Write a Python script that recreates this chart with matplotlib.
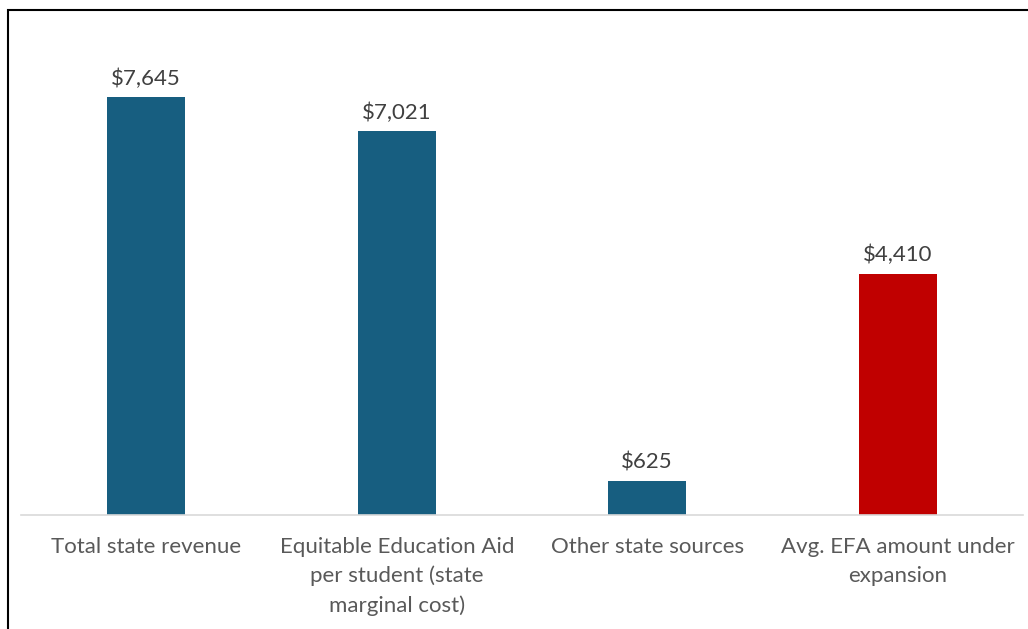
import matplotlib.pyplot as plt
from matplotlib.patches import Rectangle

categories = ["Total state revenue",
              "Equitable Education Aid\nper student (state\nmarginal cost)",
              "Other state sources",
              "Avg. EFA amount under\nexpansion"]
values = [7645, 7021, 625, 4410]
colors = ["#175E80", "#175E80", "#175E80", "#C00000"]

plt.rcParams['font.family'] = ['Lato', 'DejaVu Sans']

fig = plt.figure(figsize=(10.28, 6.29), dpi=100)
ax = fig.add_axes([21 / 1028, 1 - 515 / 629, 1002 / 1028, 485 / 629])

x = range(len(categories))
bars = ax.bar(x, values, width=0.31, color=colors)
for b, v in zip(bars, values):
    ax.annotate(f"${v:,}", (b.get_x() + b.get_width() / 2, v),
                xytext=(0, 6), textcoords="offset points",
                ha="center", va="bottom", fontsize=16, color="#404040")

ax.set_xlim(-0.5, len(categories) - 0.5)
ax.set_ylim(0, 485 / (418 / 7645))
ax.set_xticks(list(x))
ax.set_xticklabels(categories, fontsize=16, color="#595959", linespacing=1.52, va="top")
ax.tick_params(axis="x", length=0, pad=16)
ax.set_yticks([])
for s in ["top", "right", "left"]:
    ax.spines[s].set_visible(False)
ax.spines["bottom"].set_color("#D9D9D9")
ax.spines["bottom"].set_linewidth(1.2)

# outer frame
fig.patches.append(Rectangle((7.5 / 1028, -0.05), 1.1, 1 - 9.5 / 629 + 0.05,
                             transform=fig.transFigure, fill=False,
                             edgecolor="black", linewidth=1.5))

fig.savefig("out.png", dpi=100)
